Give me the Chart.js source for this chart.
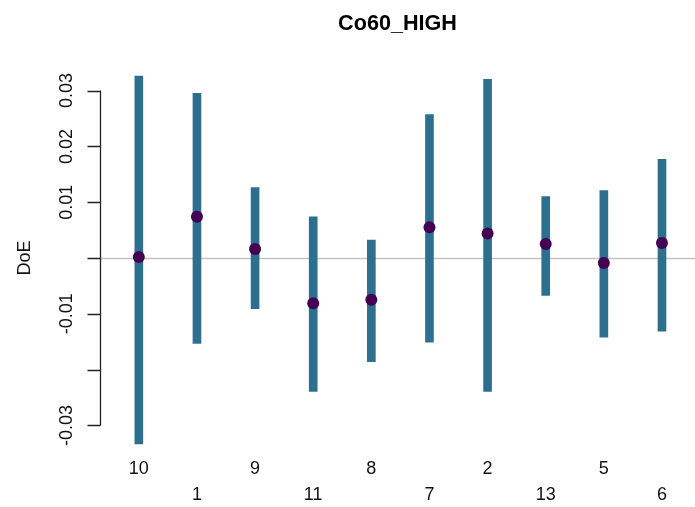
<!DOCTYPE html>
<html>
<head>
<meta charset="utf-8">
<script src="https://cdn.jsdelivr.net/npm/chart.js@4"></script>
<style>
  html, body { margin: 0; padding: 0; background: #fff; }
  #chart { display: block; }
</style>
</head>
<body>
<canvas id="chart" width="695" height="507"></canvas>
<script>
// values
const categories = ['10', '1', '9', '11', '8', '7', '2', '13', '5', '6'];
const estimates = [0.0002, 0.0074, 0.0016, -0.0081, -0.0075, 0.0055, 0.0044, 0.0025, -0.0009, 0.0027];
const lower = [-0.0333, -0.0153, -0.0091, -0.0239, -0.0186, -0.0151, -0.0239, -0.0067, -0.0142, -0.0131];
const upper = [0.0326, 0.0295, 0.0126, 0.0074, 0.0032, 0.0257, 0.0320, 0.0110, 0.0121, 0.0177];
const yTicks = [-0.03, -0.02, -0.01, 0, 0.01, 0.02, 0.03];
const yTickLabels = ['-0.03', '', '-0.01', '', '0.01', '0.02', '0.03'];

const FONT = '"Liberation Sans", Arial, sans-serif';

// R-style axes, title and zero line
const rAxes = {
  id: 'rAxes',
  beforeDatasetsDraw(chart) {
    const { ctx, chartArea, scales: { y } } = chart;
    const y0 = Math.round(y.getPixelForValue(0)) + 0.5;
    ctx.save();
    ctx.strokeStyle = '#c4c4c4';
    ctx.lineWidth = 1.5;
    ctx.beginPath();
    ctx.moveTo(chartArea.left, y0);
    ctx.lineTo(chart.width, y0);
    ctx.stroke();
    ctx.restore();
  },
  afterDraw(chart) {
    const { ctx, chartArea, scales: { x, y } } = chart;
    const ax = chartArea.left + 0.5;
    ctx.save();

    ctx.strokeStyle = '#222';
    ctx.lineWidth = 1.3;
    ctx.beginPath();
    ctx.moveTo(ax, y.getPixelForValue(yTicks[yTicks.length - 1]));
    ctx.lineTo(ax, y.getPixelForValue(yTicks[0]));
    yTicks.forEach(v => {
      const py = Math.round(y.getPixelForValue(v)) + 0.5;
      ctx.moveTo(ax, py);
      ctx.lineTo(ax - 13, py);
    });
    ctx.stroke();

    ctx.fillStyle = '#111';
    ctx.font = '18px ' + FONT;
    ctx.textAlign = 'center';
    ctx.textBaseline = 'alphabetic';
    yTicks.forEach((v, i) => {
      if (!yTickLabels[i]) return;
      ctx.save();
      ctx.translate(72, y.getPixelForValue(v));
      ctx.rotate(-Math.PI / 2);
      ctx.fillText(yTickLabels[i], 0, 0);
      ctx.restore();
    });

    // y title
    ctx.save();
    ctx.translate(30, (chartArea.top + chartArea.bottom) / 2);
    ctx.rotate(-Math.PI / 2);
    ctx.fillText('DoE', 0, 0);
    ctx.restore();

    // category labels, staggered on two lines
    categories.forEach((c, i) => {
      const px = x.getPixelForValue(i + 1);
      ctx.fillText(c, px, i % 2 === 0 ? 474 : 500);
    });

    ctx.fillStyle = '#000';
    ctx.font = 'bold 21.6px ' + FONT;
    ctx.fillText('Co60_HIGH', (chartArea.left + chart.width) / 2, 30);
    ctx.restore();
  }
};

const intervals = categories.map((c, i) => ({ x: i + 1, y: [lower[i], upper[i]] }));
const points = categories.map((c, i) => ({ x: i + 1, y: estimates[i] }));

new Chart(document.getElementById('chart').getContext('2d'), {
  type: 'bar',
  data: {
    datasets: [
      {
        type: 'line',
        data: points,
        showLine: false,
        pointRadius: 6,
        pointHoverRadius: 6,
        pointBackgroundColor: '#440154',
        pointBorderWidth: 0,
        order: 0
      },
      {
        type: 'bar',
        data: intervals,
        backgroundColor: '#2d708e',
        barThickness: 8,
        order: 1
      }
    ]
  },
  options: {
    responsive: false,
    animation: false,
    layout: { padding: { left: 100, right: 0, top: 60, bottom: 51 } },
    plugins: { legend: { display: false }, tooltip: { enabled: false } },
    scales: {
      x: { type: 'linear', min: 0.332, max: 10.465, offset: false, display: false },
      y: { min: -0.035484, max: 0.035484, display: false }
    }
  },
  plugins: [rAxes]
});
</script>
</body>
</html>
